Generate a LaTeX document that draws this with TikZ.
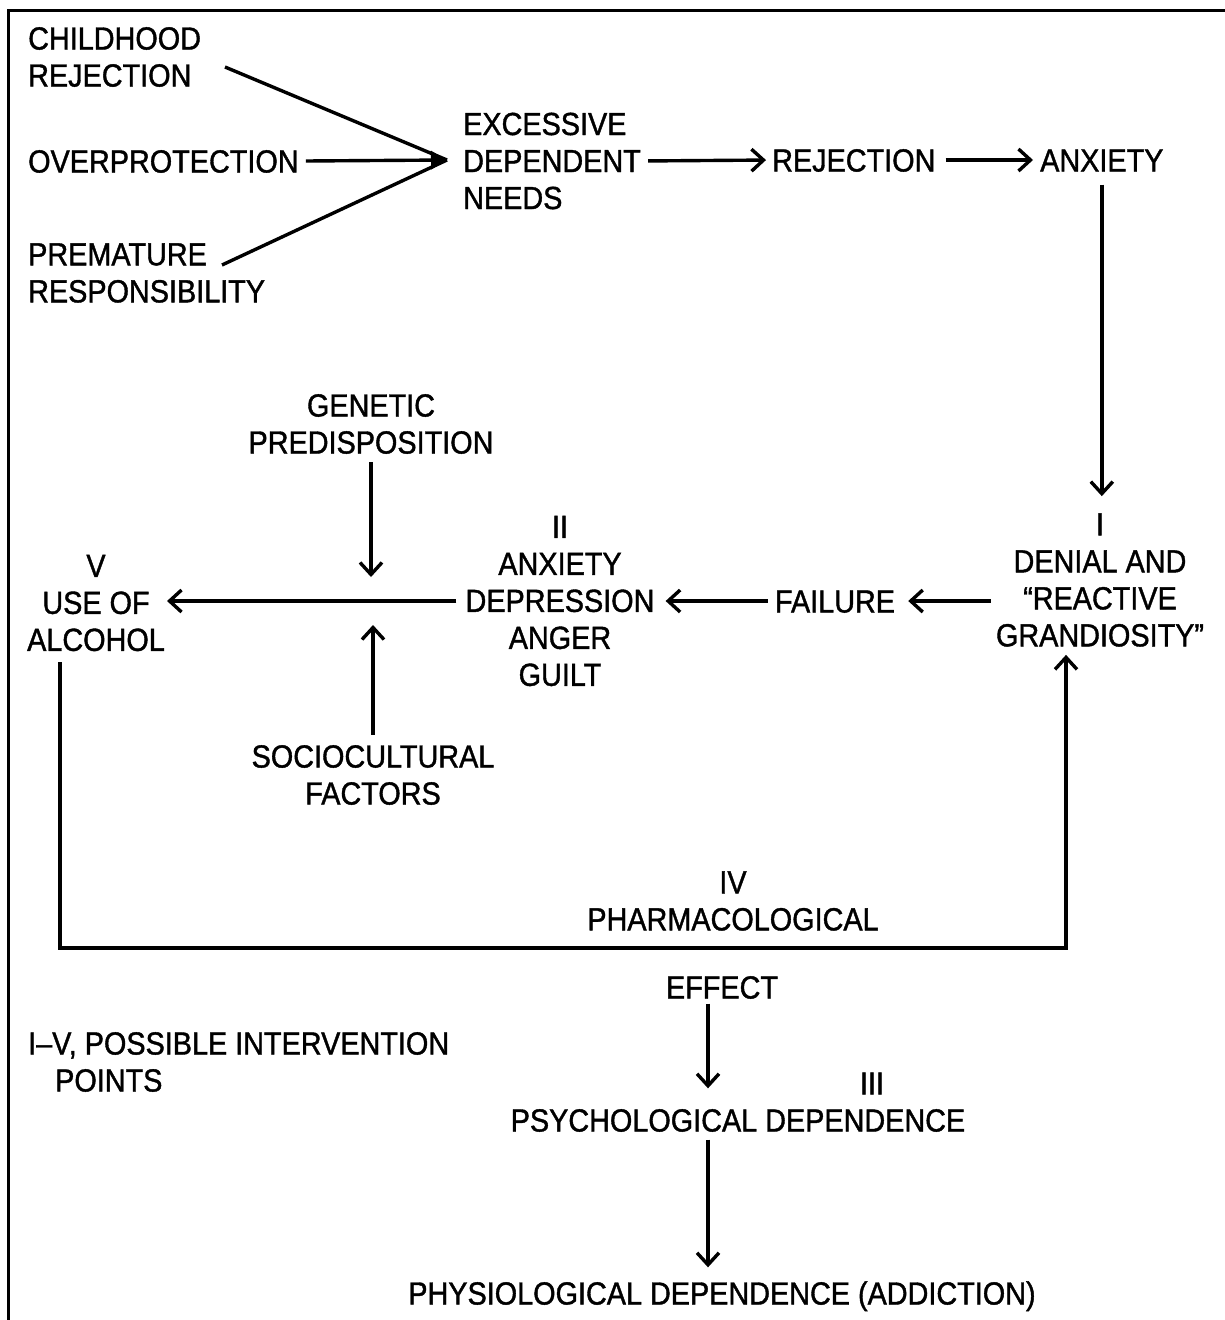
\documentclass[tikz,border=0pt]{standalone}
\usepackage{fontspec}
\setmainfont{Liberation Sans}[FakeStretch=0.9,FakeBold=1.2]
\usetikzlibrary{arrows.meta}
\begin{document}
\begin{tikzpicture}[x=1pt,y=-1pt,
  lbl/.style={inner sep=0pt, align=center, font=\fontsize{32}{37}\selectfont},
  lbll/.style={lbl, align=left, anchor=west},
  one/.style={text height=23pt, text depth=0pt},
  conn/.style={line width=3.4pt, -{Straight Barb[length=12pt,width=22pt]}},
  plainline/.style={line width=3.4pt},
  frame/.style={line width=3pt}]
\useasboundingbox (0,0) rectangle (1225,1320);
\fill[white] (0,0) rectangle (1225,1320);
% frame
\coordinate (f1) at (8,1320);
\coordinate (f2) at (8,10);
\coordinate (f3) at (1225,10);
\draw[frame] (f1) -- (f2) -- (f3);
% nodes
\node[lbll] (cr) at (28,57) {CHILDHOOD\\REJECTION};
\node[lbll,one] (ov) at (28,161) {OVERPROTECTION};
\node[lbll] (pr) at (28,273) {PREMATURE\\RESPONSIBILITY};
\node[lbll] (edn) at (463,161) {EXCESSIVE\\DEPENDENT\\NEEDS};
\node[lbll,one] (rej) at (772,160) {REJECTION};
\node[lbll,one] (anx) at (1040,160) {ANXIETY};
\node[lbl] (den) at (1100,580) {I\\DENIAL AND\\“REACTIVE\\GRANDIOSITY”};
\node[lbl,one] (fail) at (835,601) {FAILURE};
\node[lbl] (ad) at (560,601) {II\\ANXIETY\\DEPRESSION\\ANGER\\GUILT};
\node[lbl] (uoa) at (96,603) {V\\USE OF\\ALCOHOL};
\node[lbl] (gen) at (371,424) {GENETIC\\PREDISPOSITION};
\node[lbl] (soc) at (373,775) {SOCIOCULTURAL\\FACTORS};
\node[lbl] (ph) at (733,901) {IV\\PHARMACOLOGICAL};
\node[lbl,one] (eff) at (722,987) {EFFECT};
\node[lbl,one] (iii) at (872,1083) {III};
\node[lbl,one] (psy) at (738,1120) {PSYCHOLOGICAL DEPENDENCE};
\node[lbl,one] (phy) at (722,1293) {PHYSIOLOGICAL DEPENDENCE (ADDICTION)};
\node[lbll,one] (leg1) at (28,1043) {I–V, POSSIBLE INTERVENTION};
\node[lbll,one] (leg2) at (55,1080) {POINTS};
% converging arrows
\coordinate (m) at (447,160);
\coordinate (c1) at (225,67);
\coordinate (c3) at (222,265);
\draw[plainline] (c1) -- (m);
\draw[plainline] (c3) -- (m);
\draw[line width=3.4pt, -{Triangle[length=16pt,width=18pt]}] ([xshift=7pt]ov.east) -- (m);
% chain
\draw[conn, shorten <=7pt, shorten >=6pt] (edn.east) -- (rej.west);
\draw[conn, shorten <=10pt, shorten >=7pt] (rej.east) -- (anx.west);
\draw[conn, shorten <=13pt, shorten >=17pt] (anx.south) -- (anx.south |- den.north);
\draw[conn, shorten <=5pt, shorten >=13pt] (den.west |- fail.east) -- (fail.east);
\draw[conn, shorten <=7pt, shorten >=11pt] (fail.west) -- (ad.east |- fail.west);
\draw[conn, shorten <=9pt, shorten >=2pt] (ad.west |- fail.west) -- (uoa.east |- fail.west);
\draw[conn, shorten <=8pt] (gen.south) -- ([yshift=24pt]gen.south |- fail.center);
\draw[conn, shorten <=10pt] (soc.north) -- ([yshift=-24pt]soc.north |- fail.center);
% loop
\coordinate (lb) at (60,948);
\coordinate (rb) at (1066,948);
\draw[conn, shorten <=11pt, shorten >=8pt] (uoa.south -| lb) -- (lb) -- (rb) -- (rb |- den.south);
% lower chain
\draw[conn, shorten <=5pt, shorten >=20pt] ([xshift=-14pt]eff.south) -- ([xshift=-30pt]psy.north);
\draw[conn, shorten <=8pt, shorten >=14pt] ([xshift=-30pt]psy.south) -- ([xshift=-14pt]phy.north);
\end{tikzpicture}
\end{document}
